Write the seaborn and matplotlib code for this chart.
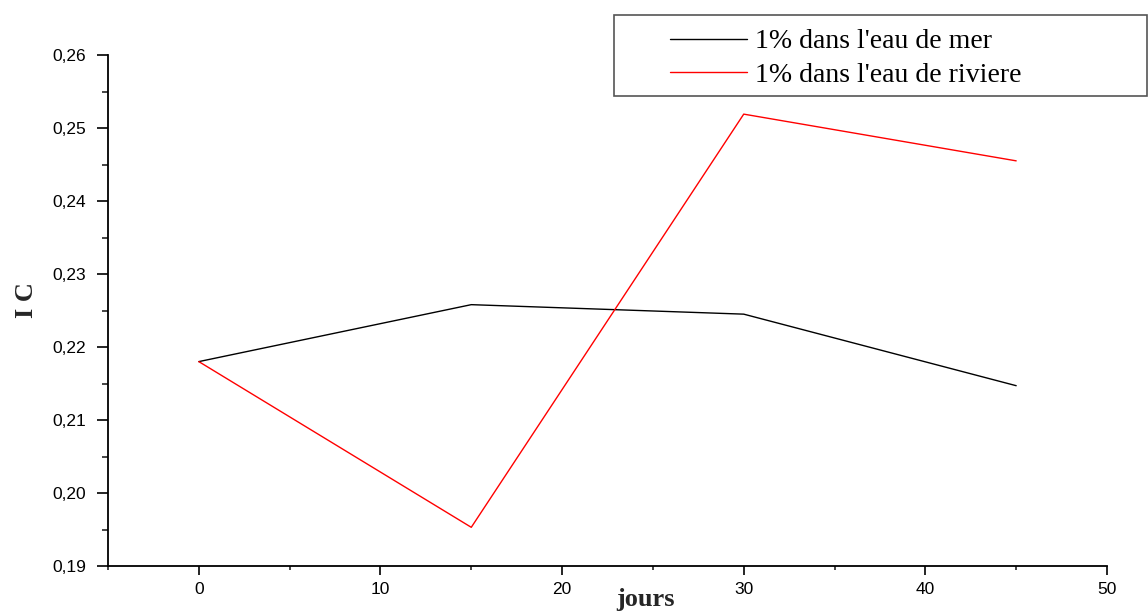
import numpy as np
import pandas as pd
import matplotlib
matplotlib.use("Agg")
import matplotlib.pyplot as plt
import seaborn as sns
from matplotlib.ticker import MultipleLocator, FuncFormatter
from matplotlib.patches import Rectangle

days = [0, 15, 30, 45]
ic_mer = [0.2180, 0.2258, 0.2245, 0.2147]
ic_riviere = [0.2180, 0.1953, 0.2519, 0.2455]
series_names = ["1% dans l'eau de mer", "1% dans l'eau de riviere"]
colors = ["#000000", "#ff0000"]

df = pd.DataFrame({
    "jours": days * 2,
    "IC": ic_mer + ic_riviere,
    "serie": [series_names[0]] * len(days) + [series_names[1]] * len(days),
})

sns.set_style("ticks")
plt.rcParams["font.family"] = ["Liberation Sans", "DejaVu Sans"]

fig = plt.figure(figsize=(11.48, 6.13), dpi=100)
ax = fig.add_axes([108 / 1148, 47 / 613, 999 / 1148, 511 / 613])

sns.lineplot(data=df, x="jours", y="IC", hue="serie", palette=colors,
             sort=False, estimator=None, linewidth=1.0, ax=ax, legend=True)

ax.set_xlim(-5, 50)
ax.set_ylim(0.19, 0.26)
ax.xaxis.set_major_locator(MultipleLocator(10))
ax.xaxis.set_minor_locator(MultipleLocator(5))
ax.yaxis.set_major_locator(MultipleLocator(0.01))
ax.yaxis.set_minor_locator(MultipleLocator(0.005))
ax.yaxis.set_major_formatter(FuncFormatter(lambda v, p: f"{v:.2f}".replace(".", ",")))
ax.xaxis.set_major_formatter(FuncFormatter(lambda v, p: f"{v:.0f}"))

sns.despine(ax=ax)
for s in ["left", "bottom"]:
    ax.spines[s].set_linewidth(1.3)
    ax.spines[s].set_color("black")

ax.tick_params(axis="y", which="major", length=8, width=1.2, pad=8, labelsize=12.5, colors="black")
ax.tick_params(axis="y", which="minor", length=4.3, width=1.2)
ax.tick_params(axis="x", which="major", length=6.5, width=1.2, pad=5, labelsize=12.5, colors="black")
ax.tick_params(axis="x", which="minor", length=3, width=1.2)

ax.set_xlabel("jours", fontsize=19, fontweight="bold", family=["Liberation Serif", "DejaVu Serif"])
ax.set_ylabel("I C", fontsize=19, fontweight="bold", family=["Liberation Serif", "DejaVu Serif"])
ax.xaxis.set_label_coords(0.5385, -0.043)
ax.yaxis.set_label_coords(-0.07, 0.52)

handles, labels = ax.get_legend_handles_labels()
ax.get_legend().remove()
leg = fig.legend(handles, labels, loc="upper left", bbox_to_anchor=(670 / 1148, 1 - 29 / 613),
                 frameon=False, borderpad=0, borderaxespad=0, handlelength=2.77,
                 handletextpad=0.3, labelspacing=0.3,
                 prop={"family": ["Liberation Serif", "DejaVu Serif"], "size": 20})
for t in leg.get_texts():
    t.set_color("black")
fig.patches.append(Rectangle((614 / 1148, 1 - 96 / 613), 533 / 1148, 81 / 613,
                             transform=fig.transFigure, fill=False,
                             edgecolor="#555555", linewidth=1.2))

fig.savefig("out.png", dpi=100)
